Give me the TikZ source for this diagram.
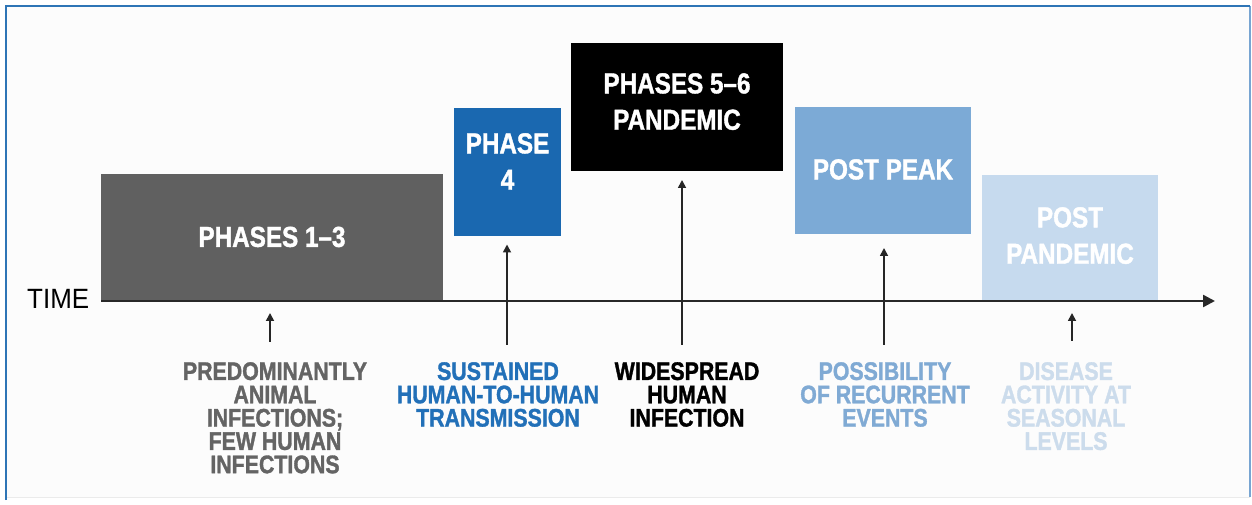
\documentclass[tikz,border=0pt]{standalone}
\usepackage{fontspec}
\setmainfont{Liberation Sans}
\newfontfamily\condfont[FakeStretch=0.84,FakeBold=1.3]{Liberation Sans}
\newfontfamily\timefont[FakeStretch=0.93]{Liberation Sans}
\usetikzlibrary{arrows.meta}
\definecolor{frameblue}{RGB}{46,117,182}
\definecolor{framelight}{RGB}{120,165,210}
\definecolor{bgpaper}{RGB}{252,252,252}
\definecolor{cgray}{RGB}{96,96,96}
\definecolor{cblue}{RGB}{26,104,176}
\definecolor{cpeak}{RGB}{124,170,214}
\definecolor{cpost}{RGB}{198,218,238}
\definecolor{tgray}{RGB}{100,100,100}
\definecolor{tblue}{RGB}{34,112,184}
\definecolor{tpeak}{RGB}{128,170,212}
\definecolor{tpost}{RGB}{204,220,236}
\definecolor{axiscol}{RGB}{40,40,40}
\begin{document}
\begin{tikzpicture}[x=1bp,y=-1bp,
  phasebox/.style={inner sep=0pt,outer sep=0pt},
  boxlabel/.style={inner sep=0pt,anchor=north,align=center,text=white,
    font=\condfont\bfseries\fontsize{29}{36.5}\selectfont},
  desc/.style={inner sep=0pt,anchor=north,align=center,
    font=\condfont\bfseries\fontsize{25.5}{23.4}\selectfont},
  pointer/.style={line width=1.7bp,draw=black!85,-{Triangle[length=8bp,width=8bp]}},
  timeaxis/.style={line width=2.5bp,draw=axiscol,-{Triangle[length=12bp,width=12bp]}}]
\useasboundingbox (0,0) rectangle (1252,505);
% frame
\fill[bgpaper] (6,6) rectangle (1250,497);
\draw[black!8,line width=1bp] (6,497) -- (1250,497);
\draw[framelight,line width=2bp] (1250,6) -- (1250,497);
\draw[frameblue,line width=2.5bp] (6,500) -- (6,6) -- (1250,6);
% boxes
\node[phasebox,fill=cgray,minimum width=342bp,minimum height=127bp] (p13) at (272,237.5) {};
\node[phasebox,fill=cblue,minimum width=107bp,minimum height=128bp] (p4) at (507.5,172.5) {};
\node[phasebox,fill=black,minimum width=212bp,minimum height=128bp] (p56) at (677,107) {};
\node[phasebox,fill=cpeak,minimum width=176bp,minimum height=127bp] (ppk) at (883,170.5) {};
\node[phasebox,fill=cpost,minimum width=176bp,minimum height=127bp] (ppd) at (1070,238.5) {};
% box labels
\node[boxlabel] (l13) at (272,226.5) {PHASES 1–3};
\node[boxlabel] (l4) at (507.5,133) {PHASE\\4};
\node[boxlabel] (l56) at (677,73) {PHASES 5–6\\PANDEMIC};
\node[boxlabel] (lpk) at (883,159) {POST PEAK};
\node[boxlabel] (lpd) at (1070,207) {POST\\PANDEMIC};
% axis
\coordinate (axs) at (101,301);
\coordinate (axe) at (1215,301);
\draw[timeaxis] (axs) -- (axe);
\node[inner sep=0pt,anchor=base west,font=\timefont\fontsize{28}{28}\selectfont] (time) at (27,309) {TIME};
% arrow feet
\coordinate (b13) at (270,342);
\coordinate (b4) at (507,345);
\coordinate (b56) at (682,345);
\coordinate (bpk) at (884,345);
\coordinate (bpd) at (1072,341);
\draw[pointer,shorten >=12bp] (b13) -- (b13 |- axs);
\draw[pointer,shorten >=8bp] (b4) -- (b4 |- p4.south);
\draw[pointer,shorten >=9bp] (b56) -- (b56 |- p56.south);
\draw[pointer,shorten >=14bp] (bpk) -- (bpk |- ppk.south);
\draw[pointer,shorten >=12bp] (bpd) -- (bpd |- axs);
% descriptions
\node[desc,text=tgray] (d13) at (275,362) {PREDOMINANTLY\\ANIMAL\\INFECTIONS;\\FEW HUMAN\\INFECTIONS};
\node[desc,text=tblue] (d4) at (498,362) {SUSTAINED\\HUMAN-TO-HUMAN\\TRANSMISSION};
\node[desc,text=black] (d56) at (687,362) {WIDESPREAD\\HUMAN\\INFECTION};
\node[desc,text=tpeak] (dpk) at (885,362) {POSSIBILITY\\OF RECURRENT\\EVENTS};
\node[desc,text=tpost] (dpd) at (1066,362) {DISEASE\\ACTIVITY AT\\SEASONAL\\LEVELS};
\end{tikzpicture}
\end{document}
